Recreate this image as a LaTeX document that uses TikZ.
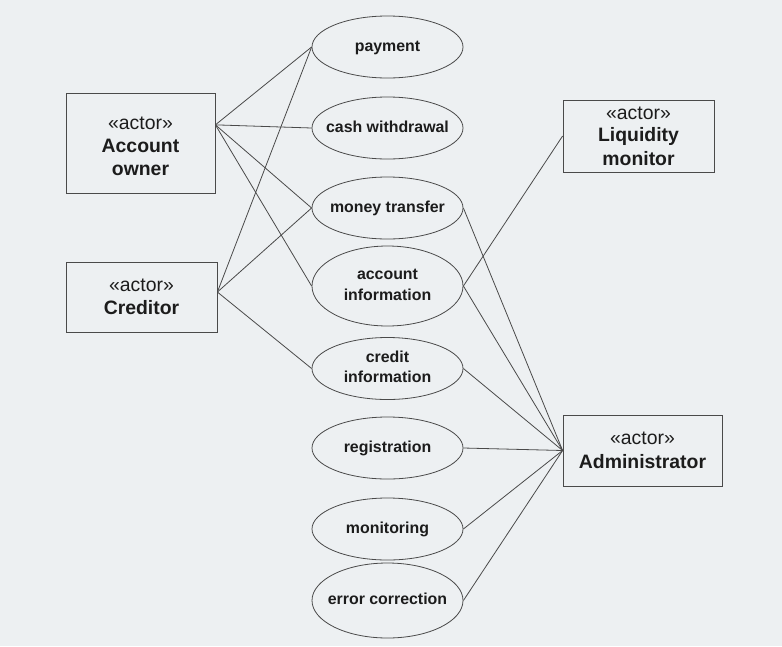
\documentclass[tikz,border=0pt]{standalone}
\usepackage{fontspec}
\setmainfont{Liberation Sans}
\usetikzlibrary{shapes.geometric,calc}
\definecolor{bgc}{HTML}{EDF0F2}
\definecolor{linec}{HTML}{4A4A4A}
\definecolor{txtc}{HTML}{1C1C1C}
\tikzset{
  ucase/.style={ellipse, draw=linec, line width=0.8pt, fill=bgc, text=txtc,
    minimum width=151pt, minimum height=62pt, inner sep=0pt,
    font=\fontsize{15.9}{20.5}\selectfont\bfseries},
  actorbox/.style={rectangle, draw=linec, line width=0.8pt, fill=bgc, text=txtc,
    inner sep=0pt, align=center, font=\fontsize{19.4}{23.5}\selectfont},
  assoc/.style={draw=linec, line width=0.8pt}
}
\newcommand{\stereo}{\fontseries{m}\selectfont «actor»}
\newcommand{\uclabel}[1]{\makebox[0pt][c]{\begin{tabular}{@{}c@{}}#1\end{tabular}}}
\begin{document}
\begin{tikzpicture}[x=1pt,y=-1pt]
\fill[bgc] (0,0) rectangle (782,646);
\useasboundingbox (0,0) rectangle (782,646);
% use cases
\node[ucase] (pay) at (387.5,47) {\uclabel{payment}};
\node[ucase] (cash) at (387.5,128) {\uclabel{cash withdrawal}};
\node[ucase] (money) at (387.5,208) {\uclabel{money transfer}};
\node[ucase, minimum height=80pt] (accinfo) at (387.5,286) {\uclabel{account\\information}};
\node[ucase] (credinfo) at (387.5,368.5) {\uclabel{credit\\information}};
\node[ucase] (reg) at (387.5,448) {\uclabel{registration}};
\node[ucase] (mon) at (387.5,529) {\uclabel{monitoring}};
\node[ucase, minimum height=75pt] (err) at (387.5,600.5) {\uclabel{error correction}};
% actors
\node[actorbox, minimum width=149pt, minimum height=100pt] (ao) at (140.5,143)
  {\raisebox{-5pt}[\height][\depth]{\begin{tabular}{@{}c@{}}\stereo\\[-1pt]\bfseries Account\\\bfseries owner\end{tabular}}};
\node[actorbox, minimum width=151pt, minimum height=70pt] (cr) at (141.5,297)
  {\stereo\\\bfseries Creditor};
\node[actorbox, minimum width=151pt, minimum height=72pt] (lm) at (638.5,136)
  {\stereo\\[-1pt]\bfseries Liquidity\\\bfseries monitor};
\node[actorbox, minimum width=159pt, minimum height=71pt] (ad) at (642.5,450.5)
  {\stereo\\\bfseries Administrator};
% connection points
\coordinate (aoP) at ($(ao.north east)!0.32!(ao.south east)$);
\coordinate (crP) at ($(cr.north east)!0.43!(cr.south east)$);
\coordinate (lmP) at (lm.west);
\coordinate (adP) at (ad.west);
% associations
\draw[assoc] (aoP) -- (pay.west);
\draw[assoc] (aoP) -- (cash.west);
\draw[assoc] (aoP) -- (money.west);
\draw[assoc] (aoP) -- (accinfo.west);
\draw[assoc] (crP) -- (pay.west);
\draw[assoc] (crP) -- (money.west);
\draw[assoc] (crP) -- (credinfo.west);
\draw[assoc] (lmP) -- (accinfo.east);
\draw[assoc] (adP) -- (money.east);
\draw[assoc] (adP) -- (accinfo.east);
\draw[assoc] (adP) -- (credinfo.east);
\draw[assoc] (adP) -- (reg.east);
\draw[assoc] (adP) -- (mon.east);
\draw[assoc] (adP) -- (err.east);
\end{tikzpicture}
\end{document}
